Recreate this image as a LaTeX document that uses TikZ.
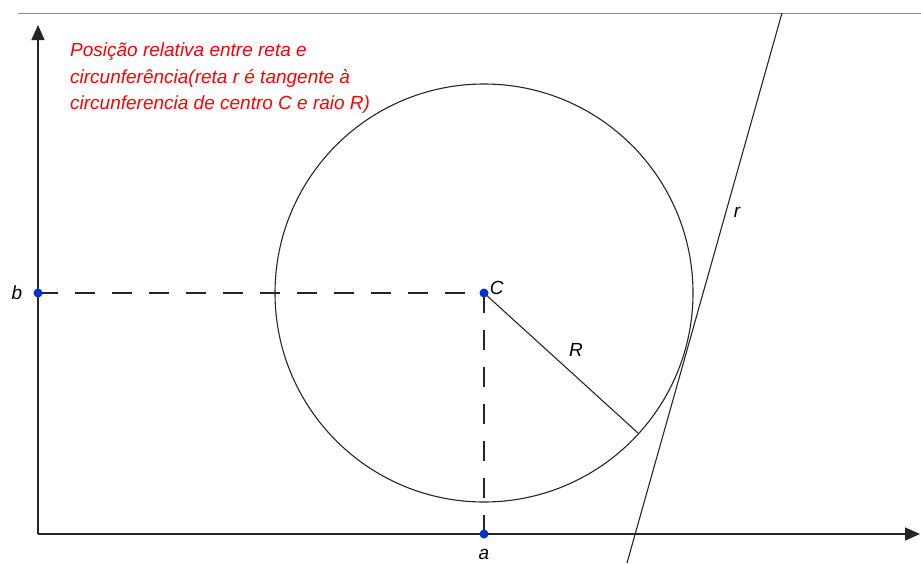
\documentclass[tikz,border=0pt]{standalone}
\usepackage{fontspec}
\setmainfont{Liberation Sans}
\usetikzlibrary{arrows.meta, positioning}
\definecolor{ptblue}{HTML}{0033CC}
\definecolor{framegray}{HTML}{8A8A8A}

\begin{document}
\begin{tikzpicture}[x=1pt, y=-1pt,
		every node/.style={font=\fontsize{19}{26.5}\selectfont\itshape},
		axis/.style={-{Triangle[length=15pt, width=13pt]}, line width=1.5pt, black!85},
		thin line/.style={line width=1.1pt, black!85},
		guide/.style={line width=1.2pt, black!85, dash pattern=on 20pt off 17pt},
		pt/.style={circle, fill=ptblue, inner sep=0pt, minimum size=9pt},
		lbl/.style={inner sep=1pt},
		note/.style={text=red, align=left, inner sep=0pt, anchor=north west},
		]
		\useasboundingbox (0,0) rectangle (921,563);

		% Frame line
		\draw[framegray, line width=1pt] (18,13) -- (921,13);

		% Axes
		\coordinate (O) at (38,534);
		\coordinate (ytip) at (38,25);
		\coordinate (xtip) at (920,534);
		\draw[axis] (O) -- (ytip);
		\draw[axis] (O) -- (xtip);

		% Centre and projections
		\coordinate (C) at (484,293);
		\coordinate (b) at (38,293);
		\coordinate (a) at (484,534);
		\draw[guide] (b) -- (C);
		\draw[guide] (C) -- (a);

		% Circle and radius
		\draw[thin line] (C) circle (209);
		\coordinate (Rend) at (638,433);
		\draw[thin line] (C) -- (Rend);

		% Tangent line r
		\coordinate (rbot) at (627,563);
		\coordinate (rtop) at (782,13);
		\draw[thin line] (rbot) -- (rtop);

		% Points
		\node[pt] (pC) at (C) {};
		\node[pt] (pb) at (b) {};
		\node[pt] (pa) at (a) {};

		% Labels
		\node[lbl, right=0pt of pC, yshift=5pt] (lC) {C};
		\node[lbl, left=10pt of pb] (lb) {b};
		\node[lbl, below=9pt of pa] (la) {a};
		\node[lbl] (lR) at (576,350) {R};
		\node[lbl] (lr) at (737,212) {r};

		% Note
		\node[note] (txt) at (70,43)
		{Posição relativa entre reta e\\
			circunferência(reta r é tangente à\\
			circunferencia de centro C e raio R)};
	\end{tikzpicture}
\end{document}
